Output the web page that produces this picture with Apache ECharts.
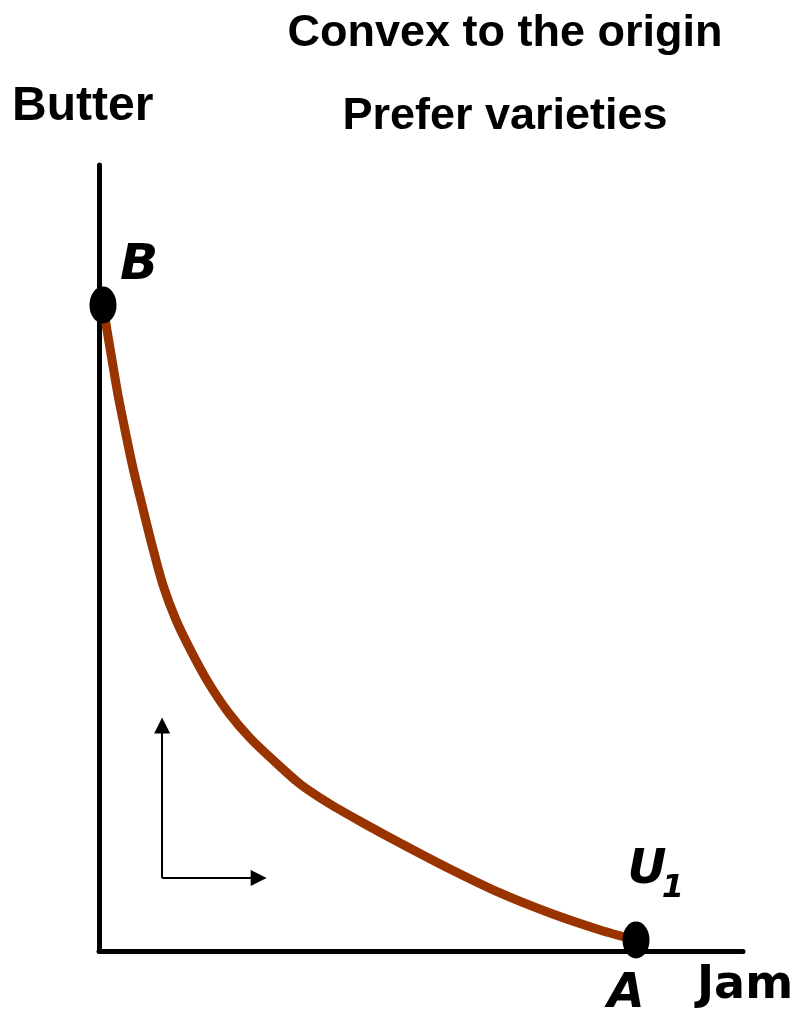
<!DOCTYPE html>
<html>
<head>
<meta charset="utf-8">
<script src="https://cdn.jsdelivr.net/npm/echarts@6/dist/echarts.min.js"></script>
<style>
  html, body { margin: 0; padding: 0; background: #fff; }
  #chart { width: 803px; height: 1015px; }
</style>
</head>
<body>
<div id="chart"></div>
<script>
// indifference curve U1, jam on x, butter on y (abstract units 0..100)
let curveJam = [0.62, 1.24, 2.02, 2.95, 4.04, 5.28, 6.68, 8.23, 9.94, 11.96, 14.29, 16.93, 20.03, 23.45, 27.02, 31.21, 35.87, 41.30, 46.74, 54.50, 62.27, 70.03, 77.80, 83.39]
let curveButter = [82.19, 79.01, 75.19, 70.74, 66.28, 61.45, 56.74, 51.65, 46.56, 42.11, 38.17, 34.22, 30.41, 27.10, 24.30, 21.25, 18.70, 16.16, 13.74, 10.43, 7.38, 4.83, 2.67, 1.40]
// bundles B and A
let pointNames = ['B', 'A']
let pointJam = [0.62, 83.39]
let pointButter = [82.19, 1.40]
// arrows from corner
let arrowCorner = [9.8, 9.3]
let arrowUpTip = [9.8, 28.7]
let arrowRightTip = [24.8, 9.3]

let options = {
  animation: false,
  grid: {
    left: 99,
    top: 165,
    width: 644,
    height: 786
  },
  xAxis: {
    type: 'value',
    min: 0,
    max: 100,
    axisLine: { lineStyle: { color: '#000', width: 5 } },
    axisTick: { show: false },
    axisLabel: { show: false },
    splitLine: { show: false }
  },
  yAxis: {
    type: 'value',
    min: 0,
    max: 100,
    axisLine: { show: true, lineStyle: { color: '#000', width: 5 } },
    axisTick: { show: false },
    axisLabel: { show: false },
    splitLine: { show: false }
  },
  series: [
    {
      type: 'line',
      smooth: 0.3,
      showSymbol: false,
      z: 2,
      lineStyle: { color: '#993300', width: 9 },
      data: curveJam.map((x, i) => [x, curveButter[i]]),
      markLine: {
        silent: true,
        symbolSize: 16,
        label: { show: false },
        lineStyle: { color: '#000', width: 2, type: 'solid' },
        data: [
          [{ coord: arrowCorner, symbol: 'none' }, { coord: arrowUpTip, symbol: 'triangle' }],
          [{ coord: arrowCorner, symbol: 'none' }, { coord: arrowRightTip, symbol: 'triangle' }]
        ]
      }
    },
    {
      type: 'scatter',
      z: 3,
      symbol: 'circle',
      symbolSize: [27, 37],
      itemStyle: { color: '#000', opacity: 1 },
      data: pointNames.map((n, i) => ({ name: n, value: [pointJam[i], pointButter[i]] }))
    }
  ],
  graphic: [
    { type: 'text', x: 505, y: 34, style: { text: 'Convex to the origin', font: 'bold 45px "Liberation Sans", Arial, sans-serif', fill: '#000', align: 'center', verticalAlign: 'middle' } },
    { type: 'text', x: 505, y: 117, style: { text: 'Prefer varieties', font: 'bold 45px "Liberation Sans", Arial, sans-serif', fill: '#000', align: 'center', verticalAlign: 'middle' } },
    { type: 'text', x: 12, y: 107, style: { text: 'Butter', font: 'bold 48px "Liberation Sans", Arial, sans-serif', fill: '#000', align: 'left', verticalAlign: 'middle' } },
    { type: 'text', x: 139, y: 266, style: { text: 'B', font: 'italic bold 50px "DejaVu Sans", sans-serif', fill: '#000', align: 'center', verticalAlign: 'middle' } },
    { type: 'text', x: 647, y: 871, style: { text: 'U', font: 'italic bold 48px "DejaVu Sans", sans-serif', fill: '#000', align: 'center', verticalAlign: 'middle' } },
    { type: 'text', x: 673, y: 889, style: { text: '1', font: 'italic bold 32px "DejaVu Sans", sans-serif', fill: '#000', align: 'center', verticalAlign: 'middle' } },
    { type: 'text', x: 626, y: 995, style: { text: 'A', font: 'italic bold 48px "DejaVu Sans", sans-serif', fill: '#000', align: 'center', verticalAlign: 'middle' } },
    { type: 'text', x: 697, y: 986, style: { text: 'Jam', font: 'bold 46px "DejaVu Sans", sans-serif', fill: '#000', align: 'left', verticalAlign: 'middle' } }
  ]
}

let myChart = echarts.init(document.getElementById('chart'))
myChart.setOption(options)
</script>
</body>
</html>
